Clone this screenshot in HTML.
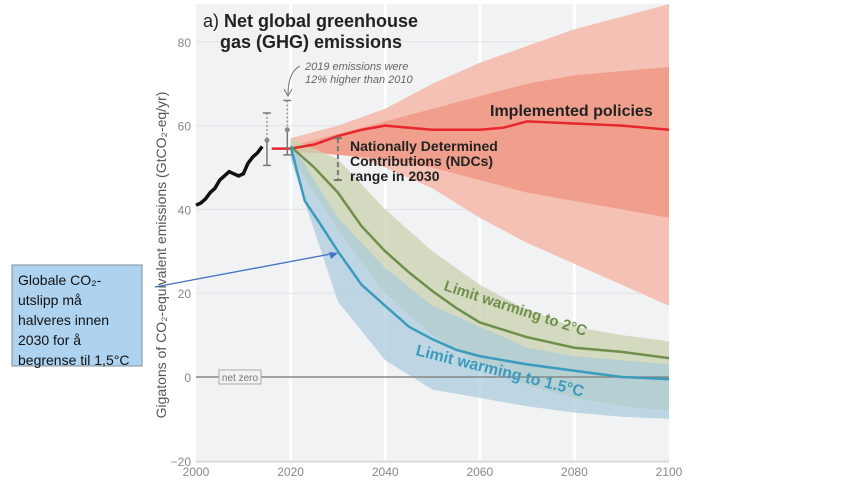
<!DOCTYPE html>
<html><head><meta charset="utf-8"><style>
body{margin:0;background:#fff;width:846px;height:482px;overflow:hidden;font-family:"Liberation Sans",sans-serif}
svg{position:absolute;left:0;top:0}
</style></head><body>
<svg width="846" height="482">
<g id="g"></g>
</svg>
<script>
const histYears=[2000,2001,2002,2003,2004,2005,2006,2007,2008,2009,2010,2011,2012,2013,2014];
const histVals=[41,41.5,42.5,44,45,47,48,49,48.5,48,48.5,51,52.5,53.5,55];
const yrs=[2020,2030,2040,2050,2060,2070,2080,2090,2100];
const polOutHi=[57,60,64,70,75,79,83,86,89];
const polOutLo=[53,54,50,45,38,32,27,22,17];
const polInHi=[55,58,61,64,67,70,72,73,74];
const polInLo=[54,53,52,50,47,44,42,40,38];
const polYears=[2016,2020,2025,2030,2035,2040,2045,2050,2055,2060,2065,2070,2080,2090,2100];
const polMed=[54.5,54.5,55.5,57.5,59,60,59.5,59,59,59,59.5,61,60.5,60,59];
const g2Hi=[57,52,40,30,22,16,12,10,8.5];
const g2Lo=[53,35,20,10,3,-2,-5,-7,-8];
const g2Years=[2020,2025,2030,2035,2040,2045,2050,2055,2060,2070,2080,2090,2100];
const g2Med=[55,50,44,36,30,25,20.5,16.5,13,9.5,7,6,4.5];
const b15Hi=[56,38,26,17,12,7,5,4,3];
const b15Lo=[52,18,4,-3,-5,-7,-8.5,-9.5,-10];
const b15Years=[2020,2023,2026,2030,2035,2040,2045,2050,2055,2060,2070,2080,2090,2100];
const b15Med=[55,42,37,30,22,17,12,9,6.5,5,3,1.5,0,-0.5];
const yTicks=[80,60,40,20,0,-20];
const xTicks=[2000,2020,2040,2060,2080,2100];

const X=y=>196+(y-2000)*4.73, Y=v=>377-v*4.19;
const NS="http://www.w3.org/2000/svg", g=document.getElementById('g');
function el(t,a,txt){const e=document.createElementNS(NS,t);for(const k in a)e.setAttribute(k,a[k]);if(txt!=null)e.textContent=txt;g.appendChild(e);return e;}
function line(xs,vs){return xs.map((x,i)=>(i?'L':'M')+X(x).toFixed(1)+','+Y(vs[i]).toFixed(1)).join('');}
function band(xs,hi,lo){return line(xs,hi)+xs.slice().reverse().map((x,i)=>'L'+X(x).toFixed(1)+','+Y(lo[lo.length-1-i]).toFixed(1)).join('')+'Z';}

let e=el('rect',{x:196,y:4,width:473,height:458,fill:'#f1f2f4'});

xTicks.slice(1,-1).forEach(t=>{el('line',{x1:X(t),x2:X(t),y1:4,y2:462,stroke:'#fff','stroke-width':3});});
yTicks.forEach(t=>{el('line',{x1:196,x2:669,y1:Y(t),y2:Y(t),stroke:'#e2e3e6','stroke-width':1});
 e=el('text',{x:191,y:Y(t)+5,'text-anchor':'end','font-size':12,fill:'#888'},t<0?'−'+(-t):t);
 });
xTicks.forEach(t=>{e=el('text',{x:X(t),y:476,'text-anchor':'middle','font-size':12,fill:'#888'},t);
 });
el('line',{x1:196,x2:669,y1:462,y2:462,stroke:'#ccc'});

e=el('path',{d:band(yrs,polOutHi,polOutLo),fill:'#f4c1b4'});
e=el('path',{d:band(yrs,polInHi,polInLo),fill:'#f09f8c'});
e=el('path',{d:band(yrs,g2Hi,g2Lo),fill:'#c9d2ad',opacity:0.75});
e=el('path',{d:band(yrs,b15Hi,b15Lo),fill:'#a8cbdc',opacity:0.7});

el('line',{x1:196,x2:669,y1:Y(0),y2:Y(0),stroke:'#888','stroke-width':1.5});
el('rect',{x:219,y:370,width:42,height:14,fill:'#f1f2f4',stroke:'#aaa'});
e=el('text',{x:240,y:381,'text-anchor':'middle','font-size':10,fill:'#777'},'net zero');

e=el('path',{d:line(histYears,histVals),fill:'none',stroke:'#111','stroke-width':3.5});
e=el('path',{d:line(polYears,polMed),fill:'none',stroke:'#e8262d','stroke-width':2.5});
e=el('path',{d:line(g2Years,g2Med),fill:'none',stroke:'#6f8f4c','stroke-width':2.5});
e=el('path',{d:line(b15Years,b15Med),fill:'none',stroke:'#3c9bbd','stroke-width':2.5});

[[2015,50.5,63,56.5],[2019.3,53,66,59]].forEach(b=>{const x=X(b[0]);
 el('line',{x1:x,x2:x,y1:Y(b[2]),y2:Y(b[3]),stroke:'#999','stroke-width':1.5,'stroke-dasharray':'2,2'});
 el('line',{x1:x,x2:x,y1:Y(b[3]),y2:Y(b[1]),stroke:'#777','stroke-width':1.5});
 [b[1],b[2]].forEach(v=>el('line',{x1:x-4,x2:x+4,y1:Y(v),y2:Y(v),stroke:'#777','stroke-width':1.5}));
 el('circle',{cx:x,cy:Y(b[3]),r:2.5,fill:'#888'});});
el('line',{x1:X(2030),x2:X(2030),y1:Y(57),y2:Y(47),stroke:'#777','stroke-width':2,'stroke-dasharray':'5,3'});
el('line',{x1:X(2030)-4,x2:X(2030)+4,y1:Y(57),y2:Y(57),stroke:'#777','stroke-width':2});
el('line',{x1:X(2030)-4,x2:X(2030)+4,y1:Y(47),y2:Y(47),stroke:'#777','stroke-width':2});

e=el('text',{x:203,y:27,'font-size':18,fill:'#222'});
e.innerHTML='a) <tspan font-weight="bold">Net global greenhouse</tspan>';
el('text',{x:220,y:48,'font-size':18,'font-weight':'bold',fill:'#222'},'gas (GHG) emissions');
el('text',{x:305,y:70,'font-size':11,'font-style':'italic',fill:'#666'},'2019 emissions were');
el('text',{x:305,y:83,'font-size':11,'font-style':'italic',fill:'#666'},'12% higher than 2010');
el('path',{d:'M300,66 Q288,72 288,95 M284,89 L288,96 L292,89',fill:'none',stroke:'#777'});
e=el('text',{x:490,y:116,'font-size':16,'font-weight':'bold',fill:'#222'},'Implemented policies');
['Nationally Determined','Contributions (NDCs)','range in 2030'].forEach((t,i)=>el('text',{x:350,y:151+i*15,'font-size':14,'font-weight':'bold',fill:'#222'},t));
e=el('text',{x:0,y:0,'font-size':15,'font-weight':'bold',fill:'#6f8f4c',transform:'translate(443,290) rotate(18)'},'Limit warming to 2°C');
e=el('text',{x:0,y:0,'font-size':16,'font-weight':'bold',fill:'#3c9bbd',transform:'translate(415,355) rotate(14)'},'Limit warming to 1.5°C');
e=el('text',{x:0,y:0,'font-size':14,fill:'#555','text-anchor':'middle',transform:'translate(166,255) rotate(-90)'},'Gigatons of CO₂-equivalent emissions (GtCO₂-eq/yr)');

el('line',{x1:155,y1:287,x2:336,y2:253,stroke:'#4472c4','stroke-width':1.3});
el('path',{d:'M338,253 L329,252 L331,259 Z',fill:'#4472c4'});
e=el('rect',{x:12,y:265,width:130,height:101,fill:'#aed3f0',stroke:'#7f8c99'});
['Globale CO₂-','utslipp må','halveres innen','2030 for å','begrense til 1,5°C'].forEach((t,i)=>el('text',{x:18,y:285+i*20,'font-size':14,fill:'#111'},t));
</script>
</body></html>
